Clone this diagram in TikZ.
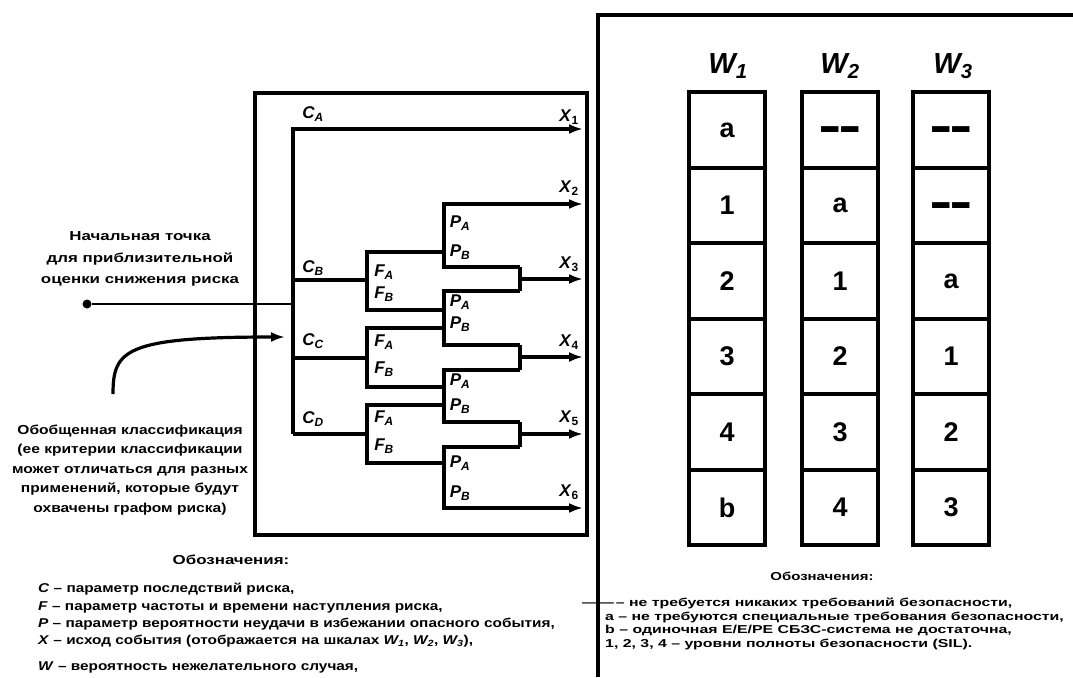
\documentclass[tikz,border=0pt]{standalone}
\usepackage{fontspec}
\setmainfont{Liberation Sans}
\newfontfamily\widesans[FakeStretch=1.2, Ligatures=TeX]{Liberation Sans}
\newfontfamily\widersans[FakeStretch=1.3, Ligatures=TeX]{Liberation Sans}
\newfontfamily\widestsans[FakeStretch=1.38, Ligatures=TeX]{Liberation Sans}
\usetikzlibrary{arrows.meta}

\newcommand{\sym}[2]{{\bfseries\itshape #1}\textsubscript{\bfseries\itshape #2}}
\newcommand{\nodash}{\smash{\raisebox{-15.5pt}{\scalebox{1.3}[2.2]{--{}--}}}}

\tikzset{
    box/.style={line width=4pt},
    rg/.style={line width=3.2pt, line join=miter},
    flow/.style={rg, -{Latex[length=14pt,width=10pt]}},
    lbl/.style={inner sep=0pt, font=\fontsize{17}{17}\selectfont},
    cell/.style={draw, line width=4pt, minimum width=76pt, minimum height=75.5pt,
        inner sep=0pt, font=\fontsize{27}{27}\selectfont\bfseries},
    wlbl/.style={inner sep=0pt, font=\fontsize{29}{29}\selectfont},
    note/.style={align=center, inner sep=0pt},
    legend/.style={align=left, inner sep=0pt}
}

\begin{document}
\begin{tikzpicture}[x=1pt, y=-1pt]
    \useasboundingbox (0,0) rectangle (1073,677);

    %frames
    \draw[box] (255,93) rectangle (587,535);
    \draw[box] (598,677) -- (598,15) -- (1073,15);

    %points of the risk graph
    \coordinate (spA) at (293,129);
    \coordinate (spB) at (293,280);
    \coordinate (spC) at (293,358);
    \coordinate (spD) at (293,434);
    \coordinate (spS) at (293,304);
    \coordinate (fB1) at (367,252);
    \coordinate (fB2) at (367,310);
    \coordinate (fC1) at (367,328);
    \coordinate (fC2) at (367,387);
    \coordinate (fD1) at (367,405);
    \coordinate (fD2) at (367,463);
    \coordinate (p1a) at (444,204);
    \coordinate (p1b) at (444,267);
    \coordinate (p2a) at (444,291);
    \coordinate (p2b) at (444,345);
    \coordinate (p3a) at (444,370);
    \coordinate (p3b) at (444,422);
    \coordinate (p4a) at (444,447);
    \coordinate (p4b) at (444,508);
    \coordinate (m3) at (520,279);
    \coordinate (m4) at (520,357);
    \coordinate (m5) at (520,434);
    \coordinate (e1) at (583,129);
    \coordinate (e2) at (583,204);
    \coordinate (e3) at (583,279);
    \coordinate (e4) at (583,357);
    \coordinate (e5) at (583,434);
    \coordinate (e6) at (583,508);

    %starting point
    \node[circle, fill, inner sep=0pt, minimum size=9pt] (start) at (87,304) {};
    \draw[line width=2.6pt] (start) -- (spS);

    %C branches
    \draw[flow] (spD) -- (spA) -- (e1);
    \draw[rg] (spB) -- (spB -| fB1);
    \draw[rg] (spC) -- (spC -| fC1);
    \draw[rg] (spD) -- (spD -| fD1);

    %F branches
    \draw[rg] (fB1 -| p1a) -- (fB1) -- (fB2) -- (fB2 -| p1a);
    \draw[rg] (fC1 -| p1a) -- (fC1) -- (fC2) -- (fC2 -| p1a);
    \draw[rg] (fD1 -| p1a) -- (fD1) -- (fD2) -- (fD2 -| p1a);

    %P branches
    \draw[flow] (p1b -| m3) -- (p1b) -- (p1a) -- (e2);
    \draw[rg] (p2a -| m3) -- (p2a) -- (p2b) -- (p2b -| m4);
    \draw[rg] (p3a -| m4) -- (p3a) -- (p3b) -- (p3b -| m5);
    \draw[flow] (p4a -| m5) -- (p4a) -- (p4b) -- (e6);

    %joins to the outcomes
    \draw[rg] (p1b -| m3) -- (p2a -| m3);
    \draw[rg] (p2b -| m4) -- (p3a -| m4);
    \draw[rg] (p3b -| m5) -- (p4a -| m5);
    \draw[flow] (m3) -- (e3);
    \draw[flow] (m4) -- (e4);
    \draw[flow] (m5) -- (e5);

    %labels
    \node[lbl] (cA) at (313,114) {\sym{C}{A}};
    \node[lbl] (cB) at (313,268) {\sym{C}{B}};
    \node[lbl] (cC) at (313,341) {\sym{C}{C}};
    \node[lbl] (cD) at (313,419) {\sym{C}{D}};
    \node[lbl] (fBa) at (384,272) {\sym{F}{A}};
    \node[lbl] (fBb) at (384,294) {\sym{F}{B}};
    \node[lbl] (fCa) at (384,342) {\sym{F}{A}};
    \node[lbl] (fCb) at (384,369) {\sym{F}{B}};
    \node[lbl] (fDa) at (384,418) {\sym{F}{A}};
    \node[lbl] (fDb) at (384,446) {\sym{F}{B}};
    \node[lbl] (p1A) at (460,223) {\sym{P}{A}};
    \node[lbl] (p1B) at (460,252) {\sym{P}{B}};
    \node[lbl] (p2A) at (460,302) {\sym{P}{A}};
    \node[lbl] (p2B) at (460,324) {\sym{P}{B}};
    \node[lbl] (p3A) at (460,381) {\sym{P}{A}};
    \node[lbl] (p3B) at (460,406) {\sym{P}{B}};
    \node[lbl] (p4A) at (460,463) {\sym{P}{A}};
    \node[lbl] (p4B) at (460,493) {\sym{P}{B}};
    \node[lbl] (x1) at (569,117) {\textbf{\textit{X}}\textsubscript{\bfseries 1}};
    \node[lbl] (x2) at (569,188) {\textbf{\textit{X}}\textsubscript{\bfseries 2}};
    \node[lbl] (x3) at (569,264) {\textbf{\textit{X}}\textsubscript{\bfseries 3}};
    \node[lbl] (x4) at (569,342) {\textbf{\textit{X}}\textsubscript{\bfseries 4}};
    \node[lbl] (x5) at (569,418) {\textbf{\textit{X}}\textsubscript{\bfseries 5}};
    \node[lbl] (x6) at (569,492) {\textbf{\textit{X}}\textsubscript{\bfseries 6}};

    %notes on the left
    \node[note, font=\widersans\fontsize{13}{21.5}\selectfont\bfseries] (startnote) at (140,259)
        {Начальная точка\\для приблизительной\\оценки снижения риска};
    \node[note, font=\widesans\fontsize{13}{19.5}\selectfont\bfseries] (classnote) at (130,470)
        {Обобщенная классификация\\(ее критерии классификации\\может отличаться для разных\\применений, которые будут\\охвачены графом риска)};
    \coordinate (clsS) at (113,394);
    \coordinate (clsE) at (285,337);
    \draw[flow] (clsS) .. controls (113,350) and (125,337) .. (clsE);

    %scales W
    \node[wlbl] (w1) at (728,66) {\sym{W}{1}};
    \node[wlbl] (w2) at (840,66) {\sym{W}{2}};
    \node[wlbl] (w3) at (953,66) {\sym{W}{3}};
    \node[cell] (a1) at (727,130) {a};
    \node[cell] (a2) at (727,205.5) {1};
    \node[cell] (a3) at (727,281) {2};
    \node[cell] (a4) at (727,356.5) {3};
    \node[cell] (a5) at (727,432) {4};
    \node[cell] (a6) at (727,507.5) {b};
    \node[cell] (b1) at (840,130) {\nodash};
    \node[cell] (b2) at (840,205.5) {a};
    \node[cell] (b3) at (840,281) {1};
    \node[cell] (b4) at (840,356.5) {2};
    \node[cell] (b5) at (840,432) {3};
    \node[cell] (b6) at (840,507.5) {4};
    \node[cell] (c1) at (951,130) {\nodash};
    \node[cell] (c2) at (951,205.5) {\nodash};
    \node[cell] (c3) at (951,281) {a};
    \node[cell] (c4) at (951,356.5) {1};
    \node[cell] (c5) at (951,432) {2};
    \node[cell] (c6) at (951,507.5) {3};

    %legends
    \node[legend, font=\widersans\fontsize{13}{13}\selectfont\bfseries] (lhead) at (231,560) {Обозначения:};
    \node[legend, anchor=north west, font=\widesans\fontsize{12.8}{17.3}\selectfont\bfseries] (llegend) at (38,583)
        {\textbf{\textit{C}} -- параметр последствий риска,\\
         \textbf{\textit{F}} -- параметр частоты и времени наступления риска,\\
         \textbf{\textit{P}} -- параметр вероятности неудачи в избежании опасного события,\\
         \textbf{\textit{X}} -- исход события (отображается на шкалах \sym{W}{1}, \sym{W}{2}, \sym{W}{3}),\\[9pt]
         \textbf{\textit{W}} -- вероятность нежелательного случая,};
    \node[legend, font=\widersans\fontsize{11.5}{11.5}\selectfont\bfseries] (rhead) at (822,576) {Обозначения:};
    \node[legend, anchor=north west, font=\widestsans\fontsize{11.5}{13.6}\selectfont\bfseries] (rlegend) at (582,598)
        {---{}---\,-- не требуется никаких требований безопасности,\\
         \hspace*{23pt}a -- не требуются специальные требования безопасности,\\
         \hspace*{23pt}b -- одиночная Е/Е/РЕ СБЗС-система не достаточна,\\
         \hspace*{23pt}1, 2, 3, 4 -- уровни полноты безопасности (SIL).};
\end{tikzpicture}
\end{document}
